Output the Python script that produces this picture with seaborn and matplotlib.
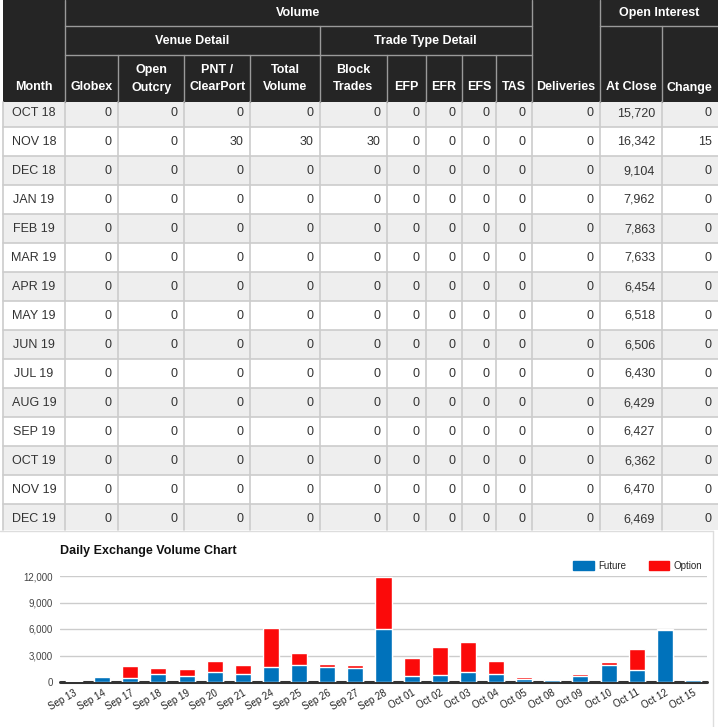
import pandas as pd
import matplotlib
matplotlib.use("Agg")
import matplotlib.pyplot as plt
from matplotlib.patches import Rectangle, Patch
import seaborn as sns

# ---- table data ----
months = ["OCT 18", "NOV 18", "DEC 18", "JAN 19", "FEB 19", "MAR 19", "APR 19", "MAY 19",
          "JUN 19", "JUL 19", "AUG 19", "SEP 19", "OCT 19", "NOV 19", "DEC 19"]
globex = [0, 0, 0, 0, 0, 0, 0, 0, 0, 0, 0, 0, 0, 0, 0]
open_outcry = [0, 0, 0, 0, 0, 0, 0, 0, 0, 0, 0, 0, 0, 0, 0]
pnt_clearport = [0, 30, 0, 0, 0, 0, 0, 0, 0, 0, 0, 0, 0, 0, 0]
total_volume = [0, 30, 0, 0, 0, 0, 0, 0, 0, 0, 0, 0, 0, 0, 0]
block_trades = [0, 30, 0, 0, 0, 0, 0, 0, 0, 0, 0, 0, 0, 0, 0]
efp = [0, 0, 0, 0, 0, 0, 0, 0, 0, 0, 0, 0, 0, 0, 0]
efr = [0, 0, 0, 0, 0, 0, 0, 0, 0, 0, 0, 0, 0, 0, 0]
efs = [0, 0, 0, 0, 0, 0, 0, 0, 0, 0, 0, 0, 0, 0, 0]
tas = [0, 0, 0, 0, 0, 0, 0, 0, 0, 0, 0, 0, 0, 0, 0]
deliveries = [0, 0, 0, 0, 0, 0, 0, 0, 0, 0, 0, 0, 0, 0, 0]
at_close = [15720, 16342, 9104, 7962, 7863, 7633, 6454, 6518, 6506, 6430, 6429, 6427, 6362, 6470, 6469]
oi_change = [0, 15, 0, 0, 0, 0, 0, 0, 0, 0, 0, 0, 0, 0, 0]

col_labels = ["Month", "Globex", "Open\nOutcry", "PNT /\nClearPort", "Total\nVolume", "Block\nTrades",
              "EFP", "EFR", "EFS", "TAS", "Deliveries", "At Close", "Change"]

# ---- chart data ----
dates = ["Sep 13", "Sep 14", "Sep 17", "Sep 18", "Sep 19", "Sep 20", "Sep 21", "Sep 24",
         "Sep 25", "Sep 26", "Sep 27", "Sep 28", "Oct 01", "Oct 02", "Oct 03", "Oct 04",
         "Oct 05", "Oct 08", "Oct 09", "Oct 10", "Oct 11", "Oct 12", "Oct 15"]
future = [150, 600, 500, 960, 630, 1080, 860, 1750, 1980, 1730, 1630, 6000,
          720, 830, 1180, 950, 380, 260, 680, 1920, 1370, 5900, 170]
option = [120, 100, 1330, 640, 870, 1320, 1100, 4370, 1330, 300, 330, 5850,
          1990, 3120, 3340, 1420, 180, 80, 190, 340, 2350, 110, 60]

sns.set_style("white")
plt.rcParams['font.family'] = ['Liberation Sans', 'DejaVu Sans']

W, H = 718, 727
fig = plt.figure(figsize=(W / 100, H / 100), dpi=100)

# table drawn in pixel coordinates
tab = fig.add_axes([0, 0, 1, 1])
tab.set_xlim(0, W)
tab.set_ylim(H, 0)
tab.axis('off')

col_x = [3, 64.7, 118.3, 184.3, 250.3, 319.7, 386.7, 425.7, 461.7, 496.3, 531.7, 600.3, 661.7, 718]
header_bg = '#252525'
hdr_line = '#9a9a9a'
grid_c = '#cccccc'
txt_c = '#333333'
row_h = 29
row_top0 = 98
table_bottom = 530

# data rows
columns = [globex, open_outcry, pnt_clearport, total_volume, block_trades,
           efp, efr, efs, tas, deliveries, at_close, oi_change]
for i, m in enumerate(months):
    top = row_top0 + row_h * i
    h = min(row_h, table_bottom - top)
    bg = '#eeeeee' if i % 2 == 0 else 'white'
    tab.add_patch(Rectangle((col_x[0], top), col_x[-1] - col_x[0], h, facecolor=bg, edgecolor='none'))
    yc = top + row_h / 2 + 0.5
    tab.text((col_x[0] + col_x[1]) / 2, yc, m, ha='center', va='center', fontsize=9, color=txt_c)
    for j, col in enumerate(columns):
        tab.text(col_x[j + 2] - 6.5, yc, f"{col[i]:,}", ha='right', va='center', fontsize=9, color=txt_c)
    if top + row_h < table_bottom:
        tab.plot([col_x[0], col_x[-1]], [top + row_h, top + row_h], color=grid_c, lw=1.2)

for x in col_x[:-1]:
    tab.plot([x, x], [102, table_bottom], color=grid_c, lw=1.2)

# header
tab.add_patch(Rectangle((col_x[0], 0), col_x[-1] - col_x[0], 102, facecolor=header_bg, edgecolor='none'))
tab.plot([col_x[1], col_x[10]], [26, 26], color=hdr_line, lw=1)
tab.plot([col_x[11], col_x[13]], [26, 26], color=hdr_line, lw=1)
tab.plot([col_x[1], col_x[10]], [55, 55], color=hdr_line, lw=1)
for x in [col_x[1], col_x[10], col_x[11]]:
    tab.plot([x, x], [0, 102], color=hdr_line, lw=1)
for x in [col_x[5], col_x[12]]:
    tab.plot([x, x], [26, 102], color=hdr_line, lw=1)
for x in [col_x[2], col_x[3], col_x[4], col_x[6], col_x[7], col_x[8], col_x[9]]:
    tab.plot([x, x], [55, 102], color=hdr_line, lw=1)

hdr_kw = dict(ha='center', va='center', fontsize=9, color='white', fontweight='bold')
tab.text((col_x[1] + col_x[10]) / 2, 13, "Volume", **hdr_kw)
tab.text((col_x[11] + col_x[13]) / 2, 13, "Open Interest", **hdr_kw)
tab.text((col_x[1] + col_x[5]) / 2, 41, "Venue Detail", **hdr_kw)
tab.text((col_x[5] + col_x[10]) / 2, 41, "Trade Type Detail", **hdr_kw)
for j, lab in enumerate(col_labels):
    xc = (col_x[j] + col_x[j + 1]) / 2
    lines = lab.split("\n")
    for k, line in enumerate(reversed(lines)):
        tab.text(xc, 87.5 - 17.5 * k, line, **hdr_kw)

# chart container border
tab.plot([0, 712.5], [530.5, 530.5], color='#dddddd', lw=1)
tab.plot([712.5, 712.5], [530.5, H], color='#dddddd', lw=1)

# ---- bar chart ----
blue = '#0072bb'
red = '#fb0a0a'
bar_w = 0.57
df = pd.DataFrame({'date': dates, 'future': future, 'option': option})
df['total'] = df['future'] + df['option']

ax = fig.add_axes([60 / W, (H - 682) / H, 647 / W, 106 / H])
ax.set_facecolor('none')
sns.barplot(data=df, x='date', y='total', color=red, saturation=1, width=bar_w, ax=ax, zorder=3)
sns.barplot(data=df, x='date', y='future', color=blue, saturation=1, width=bar_w, ax=ax, zorder=4)
# thin white divider between the stacked segments
pos = range(len(dates))
ax.hlines(df['future'], [p - bar_w / 2 for p in pos], [p + bar_w / 2 for p in pos],
          color='white', lw=0.7, zorder=4.5)
ax.set_xlim(-0.5, len(dates) - 0.5)
ax.set_ylim(0, 12000)
ax.set_yticks([0, 3000, 6000, 9000, 12000])
ax.set_yticklabels([f"{v:,}" for v in [0, 3000, 6000, 9000, 12000]])
ax.yaxis.grid(True, color='#cccccc', lw=1, zorder=0)
ax.axhline(0, color='#333333', lw=2.2, zorder=2, clip_on=False)
for s in ax.spines.values():
    s.set_visible(False)
ax.set_xlabel('')
ax.set_ylabel('')
ax.tick_params(axis='y', length=0, pad=5, labelsize=7, labelcolor='#444444')
ax.tick_params(axis='x', length=0, pad=4, labelsize=7, labelcolor='#222222')
plt.setp(ax.get_xticklabels(), rotation=30, ha='right', rotation_mode='anchor')

fig.text(60 / W, 1 - 551 / H, "Daily Exchange Volume Chart", fontsize=9, fontweight='bold',
         color='#111111', va='center', ha='left')

handles = [Patch(color=blue, label='Future'), Patch(color=red, label='Option')]
fig.legend(handles=handles, loc='center right', bbox_to_anchor=(702 / W, 1 - 566 / H),
           ncol=2, frameon=False, fontsize=7, handlelength=2.1, handleheight=1.0,
           handletextpad=0.45, columnspacing=2.3, borderpad=0, borderaxespad=0)

fig.savefig('out.png', dpi=100)
